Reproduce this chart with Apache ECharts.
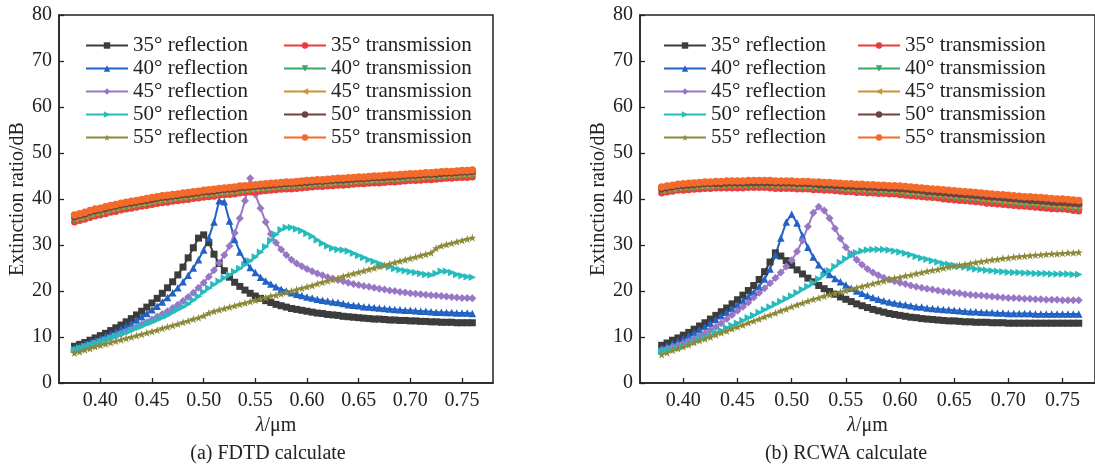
<!DOCTYPE html>
<html>
<head>
<meta charset="utf-8">
<script src="https://cdn.jsdelivr.net/npm/echarts@6/dist/echarts.min.js"></script>
<style>
  html, body { margin: 0; padding: 0; background: #fff; }
  #main { width: 1095px; height: 470px; }
</style>
</head>
<body>
<div id="main"></div>
<script>
// wavelength grids (um)
var xFdtd = [0.375,0.380,0.385,0.390,0.395,0.400,0.405,0.410,0.415,0.420,
  0.425,0.430,0.435,0.440,0.445,0.450,0.455,0.460,0.465,0.470,
  0.475,0.480,0.485,0.490,0.495,0.500,0.505,0.510,0.515,0.520,
  0.525,0.530,0.535,0.540,0.545,0.550,0.555,0.560,0.565,0.570,
  0.575,0.580,0.585,0.590,0.595,0.600,0.605,0.610,0.615,0.620,
  0.625,0.630,0.635,0.640,0.645,0.650,0.655,0.660,0.665,0.670,
  0.675,0.680,0.685,0.690,0.695,0.700,0.705,0.710,0.715,0.720,
  0.725,0.730,0.735,0.740,0.745,0.750,0.755,0.760];
var xRcwa = [0.380,0.385,0.390,0.395,0.400,0.405,0.410,0.415,0.420,0.425,
  0.430,0.435,0.440,0.445,0.450,0.455,0.460,0.465,0.470,0.475,
  0.480,0.485,0.490,0.495,0.500,0.505,0.510,0.515,0.520,0.525,
  0.530,0.535,0.540,0.545,0.550,0.555,0.560,0.565,0.570,0.575,
  0.580,0.585,0.590,0.595,0.600,0.605,0.610,0.615,0.620,0.625,
  0.630,0.635,0.640,0.645,0.650,0.655,0.660,0.665,0.670,0.675,
  0.680,0.685,0.690,0.695,0.700,0.705,0.710,0.715,0.720,0.725,
  0.730,0.735,0.740,0.745,0.750,0.755,0.760,0.765];
var xTicks = [0.40,0.45,0.50,0.55,0.60,0.65,0.70,0.75];

var refNames = ['35° reflection','40° reflection','45° reflection','50° reflection','55° reflection'];
var traNames = ['35° transmission','40° transmission','45° transmission','50° transmission','55° transmission'];

// (a) FDTD
var fdtdR35 = [8.0,8.4,8.8,9.3,9.8,10.3,10.8,11.4,12.0,12.6,
  13.3,14.0,14.8,15.6,16.5,17.4,18.4,19.5,20.7,22.0,
  23.5,25.2,27.2,29.4,31.5,32.2,30.5,28.0,26.0,24.4,
  23.0,21.9,21.0,20.2,19.5,18.9,18.4,17.9,17.5,17.1,
  16.8,16.5,16.2,16.0,15.8,15.6,15.4,15.2,15.1,14.9,
  14.8,14.7,14.5,14.4,14.3,14.2,14.1,14.0,13.9,13.9,
  13.8,13.7,13.7,13.6,13.6,13.5,13.5,13.4,13.4,13.3,
  13.3,13.2,13.2,13.2,13.1,13.1,13.1,13.1];
var fdtdR40 = [7.6,8.0,8.4,8.8,9.2,9.7,10.2,10.7,11.2,11.8,
  12.4,13.0,13.7,14.4,15.1,15.9,16.7,17.6,18.6,19.6,
  20.7,22.0,23.4,25.0,26.8,28.9,31.6,35.0,39.6,39.4,
  35.2,31.2,28.5,26.6,25.1,24.0,23.0,22.2,21.5,20.9,
  20.4,20.0,19.6,19.3,19.0,18.7,18.5,18.2,18.0,17.8,
  17.6,17.5,17.3,17.0,16.9,16.8,16.6,16.5,16.4,16.3,
  16.2,16.1,16.0,15.9,15.8,15.8,15.7,15.6,15.6,15.5,
  15.4,15.4,15.3,15.3,15.2,15.2,15.2,15.1];
var fdtdR45 = [7.2,7.5,7.9,8.2,8.6,9.0,9.4,9.8,10.2,10.7,
  11.2,11.7,12.2,12.7,13.2,13.8,14.4,15.0,15.6,16.3,
  17.0,17.8,18.7,19.6,20.7,21.8,23.1,24.5,26.1,27.8,
  29.8,32.6,35.8,39.6,44.5,41.0,38.0,35.0,32.4,30.5,
  29.0,27.8,26.8,26.0,25.4,24.8,24.3,23.8,23.4,23.0,
  22.7,22.4,22.1,21.8,21.5,21.3,21.1,20.9,20.7,20.5,
  20.3,20.1,20.0,19.8,19.7,19.5,19.4,19.3,19.2,19.1,
  19.0,18.9,18.8,18.7,18.6,18.5,18.5,18.4];
var fdtdR50 = [7.3,7.6,8.0,8.3,8.7,9.0,9.4,9.8,10.2,10.6,
  11.0,11.4,11.9,12.3,12.8,13.2,13.7,14.2,14.7,15.3,
  15.9,16.5,17.2,18.0,18.8,19.8,20.6,21.4,22.1,22.8,
  23.5,24.2,24.9,25.7,26.5,27.4,28.4,29.6,31.0,32.3,
  33.3,33.8,33.8,33.5,33.1,32.5,31.9,31.1,30.4,29.8,
  29.3,29.0,28.9,28.7,28.2,27.7,27.3,26.8,26.4,26.0,
  25.6,25.2,24.9,24.6,24.4,24.2,24.0,23.8,23.6,23.5,
  23.8,24.3,24.3,24.0,23.6,23.3,23.1,23.0];
var fdtdR55 = [6.5,6.8,7.2,7.5,7.9,8.2,8.5,8.8,9.1,9.4,
  9.7,10.0,10.3,10.6,10.9,11.2,11.5,11.9,12.2,12.5,
  12.8,13.2,13.5,13.9,14.2,14.6,15.2,15.6,15.9,16.2,
  16.5,16.8,17.1,17.4,17.7,18.0,18.3,18.6,18.9,19.1,
  19.4,19.7,20.0,20.3,20.6,20.9,21.2,21.6,21.9,22.2,
  22.5,22.8,23.2,23.5,23.8,24.1,24.4,24.7,25.0,25.3,
  25.6,25.9,26.2,26.5,26.8,27.1,27.4,27.7,28.0,28.3,
  29.3,29.8,30.1,30.4,30.7,31.0,31.3,31.6];
var fdtdT35 = [35.0,35.3,35.6,36.0,36.3,36.5,36.8,37.1,37.3,37.6,
  37.8,38.0,38.2,38.4,38.6,38.8,39.0,39.2,39.3,39.5,
  39.6,39.8,39.9,40.1,40.2,40.4,40.5,40.6,40.8,40.9,
  41.0,41.1,41.3,41.4,41.5,41.6,41.7,41.8,41.9,42.0,
  42.1,42.2,42.2,42.3,42.4,42.5,42.6,42.7,42.7,42.8,
  42.9,43.0,43.0,43.1,43.2,43.3,43.3,43.4,43.5,43.5,
  43.6,43.7,43.7,43.8,43.9,44.0,44.0,44.1,44.2,44.2,
  44.3,44.4,44.5,44.5,44.6,44.7,44.7,44.8];
var fdtdT40 = [35.4,35.7,36.0,36.4,36.7,36.9,37.2,37.5,37.7,38.0,
  38.2,38.4,38.6,38.8,39.0,39.2,39.4,39.6,39.7,39.9,
  40.0,40.2,40.3,40.5,40.6,40.8,40.9,41.0,41.2,41.3,
  41.4,41.5,41.7,41.8,41.9,42.0,42.1,42.2,42.3,42.4,
  42.5,42.6,42.6,42.7,42.8,42.9,43.0,43.1,43.1,43.2,
  43.3,43.4,43.4,43.5,43.6,43.7,43.7,43.8,43.9,43.9,
  44.0,44.1,44.1,44.2,44.3,44.4,44.4,44.5,44.6,44.6,
  44.7,44.8,44.9,44.9,45.0,45.1,45.1,45.2];
var fdtdT45 = [35.7,36.0,36.3,36.7,37.0,37.2,37.5,37.8,38.0,38.3,
  38.5,38.7,38.9,39.1,39.3,39.5,39.7,39.9,40.0,40.2,
  40.3,40.5,40.6,40.8,40.9,41.1,41.2,41.3,41.5,41.6,
  41.7,41.8,42.0,42.1,42.2,42.3,42.4,42.5,42.6,42.7,
  42.8,42.9,42.9,43.0,43.1,43.2,43.3,43.4,43.4,43.5,
  43.6,43.7,43.7,43.8,43.9,44.0,44.0,44.1,44.2,44.2,
  44.3,44.4,44.4,44.5,44.6,44.7,44.7,44.8,44.9,44.9,
  45.0,45.1,45.2,45.2,45.3,45.4,45.4,45.5];
var fdtdT50 = [36.1,36.4,36.7,37.1,37.4,37.6,37.9,38.2,38.4,38.7,
  38.9,39.1,39.3,39.5,39.7,39.9,40.1,40.3,40.4,40.6,
  40.7,40.9,41.0,41.2,41.3,41.5,41.6,41.7,41.9,42.0,
  42.1,42.2,42.4,42.5,42.6,42.7,42.8,42.9,43.0,43.1,
  43.2,43.3,43.3,43.4,43.5,43.6,43.7,43.8,43.8,43.9,
  44.0,44.1,44.1,44.2,44.3,44.4,44.4,44.5,44.6,44.6,
  44.7,44.8,44.8,44.9,45.0,45.1,45.1,45.2,45.3,45.3,
  45.4,45.5,45.6,45.6,45.7,45.8,45.8,45.9];
var fdtdT55 = [36.5,36.8,37.1,37.5,37.8,38.0,38.3,38.6,38.8,39.1,
  39.3,39.5,39.7,39.9,40.1,40.3,40.5,40.7,40.8,41.0,
  41.1,41.3,41.4,41.6,41.7,41.9,42.0,42.1,42.3,42.4,
  42.5,42.6,42.8,42.9,43.0,43.1,43.2,43.3,43.4,43.5,
  43.6,43.7,43.7,43.8,43.9,44.0,44.1,44.2,44.2,44.3,
  44.4,44.5,44.5,44.6,44.7,44.8,44.8,44.9,45.0,45.0,
  45.1,45.2,45.2,45.3,45.4,45.5,45.5,45.6,45.7,45.7,
  45.8,45.9,46.0,46.0,46.1,46.2,46.2,46.3];

// (b) RCWA
var rcwaR35 = [8.2,8.7,9.3,9.8,10.4,11.0,11.7,12.4,13.1,13.9,
  14.7,15.5,16.3,17.2,18.1,19.1,20.1,21.2,22.5,24.2,
  26.3,28.3,27.6,26.6,25.6,24.6,23.7,22.8,22.0,21.2,
  20.5,19.9,19.3,18.7,18.2,17.7,17.2,16.8,16.4,16.0,
  15.7,15.4,15.1,14.9,14.7,14.5,14.3,14.2,14.0,13.9,
  13.8,13.7,13.6,13.5,13.5,13.4,13.3,13.3,13.2,13.2,
  13.2,13.1,13.1,13.1,13.0,13.0,13.0,13.0,13.0,13.0,
  13.0,13.0,13.0,13.0,13.0,13.0,13.0,13.0];
var rcwaR40 = [7.6,8.1,8.6,9.1,9.7,10.3,10.9,11.6,12.3,13.0,
  13.8,14.6,15.4,16.2,17.0,17.9,18.8,19.8,21.0,22.6,
  24.8,27.8,31.5,35.0,36.7,34.8,32.0,29.5,27.4,25.7,
  24.3,23.6,22.7,22.0,21.3,20.6,20.0,19.5,19.0,18.6,
  18.2,17.9,17.6,17.4,17.2,17.0,16.8,16.6,16.5,16.3,
  16.2,16.1,16.0,15.9,15.8,15.7,15.6,15.5,15.5,15.4,
  15.3,15.3,15.2,15.2,15.1,15.1,15.1,15.1,15.1,15.0,
  15.0,15.0,15.0,15.0,15.0,15.0,15.0,15.0];
var rcwaR45 = [7.2,7.5,7.9,8.2,8.6,9.1,9.6,10.2,10.8,11.5,
  12.2,13.0,13.9,14.8,15.7,16.6,17.5,18.6,19.6,20.6,
  21.7,22.8,24.0,25.3,26.7,28.6,31.0,34.0,37.0,38.3,
  37.5,35.8,33.6,31.4,29.5,28.0,26.8,25.7,24.8,24.0,
  23.4,22.9,22.5,22.1,21.8,21.5,21.2,20.9,20.7,20.5,
  20.3,20.1,19.9,19.8,19.6,19.5,19.3,19.2,19.1,19.0,
  18.9,18.8,18.7,18.6,18.5,18.5,18.4,18.3,18.3,18.2,
  18.2,18.1,18.1,18.1,18.0,18.0,18.0,18.0];
var rcwaR50 = [6.9,7.1,7.4,7.6,7.9,8.4,8.9,9.4,9.9,10.4,
  10.9,11.4,12.0,12.5,13.0,13.6,14.2,14.7,15.3,15.9,
  16.5,17.1,17.7,18.3,18.9,19.6,20.3,21.0,21.8,22.6,
  23.5,24.4,25.3,26.2,27.0,27.7,28.3,28.7,28.9,29.0,
  29.0,29.0,28.9,28.7,28.5,28.2,27.9,27.5,27.2,26.9,
  26.6,26.3,26.0,25.8,25.6,25.4,25.2,25.0,24.8,24.7,
  24.5,24.4,24.3,24.2,24.1,24.0,24.0,23.9,23.9,23.8,
  23.8,23.8,23.7,23.7,23.7,23.7,23.6,23.6];
var rcwaR55 = [6.2,6.6,7.1,7.5,7.9,8.3,8.8,9.2,9.6,10.0,
  10.5,10.9,11.3,11.8,12.2,12.6,13.1,13.5,13.9,14.4,
  14.8,15.2,15.7,16.1,16.6,17.0,17.4,17.8,18.2,18.5,
  18.9,19.2,19.5,19.8,20.1,20.4,20.7,21.0,21.3,21.6,
  21.9,22.2,22.5,22.8,23.0,23.3,23.5,23.8,24.0,24.3,
  24.5,24.7,25.0,25.2,25.4,25.6,25.8,26.0,26.2,26.4,
  26.6,26.8,26.9,27.1,27.2,27.4,27.5,27.6,27.7,27.8,
  27.9,28.0,28.1,28.1,28.2,28.3,28.3,28.4];
var rcwaT35 = [41.3,41.5,41.7,41.9,41.9,42.0,42.1,42.2,42.3,42.3,
  42.4,42.4,42.4,42.4,42.4,42.4,42.5,42.5,42.5,42.5,
  42.4,42.3,42.3,42.3,42.3,42.2,42.2,42.2,42.0,42.0,
  41.9,41.9,41.8,41.7,41.6,41.6,41.4,41.4,41.3,41.3,
  41.2,41.2,41.1,41.1,40.9,40.8,40.7,40.6,40.5,40.4,
  40.3,40.2,40.0,39.9,39.8,39.7,39.6,39.5,39.4,39.3,
  39.1,39.0,38.9,38.8,38.7,38.6,38.5,38.4,38.3,38.2,
  38.1,38.0,37.9,37.8,37.8,37.7,37.5,37.4];
var rcwaT40 = [41.6,41.8,42.0,42.2,42.3,42.3,42.4,42.5,42.6,42.6,
  42.7,42.7,42.8,42.8,42.8,42.7,42.8,42.8,42.8,42.8,
  42.8,42.7,42.7,42.7,42.7,42.5,42.5,42.5,42.4,42.4,
  42.3,42.3,42.2,42.1,41.9,41.9,41.8,41.8,41.7,41.7,
  41.6,41.6,41.5,41.5,41.3,41.2,41.1,41.0,40.9,40.8,
  40.7,40.6,40.5,40.3,40.2,40.1,40.0,39.9,39.8,39.7,
  39.6,39.5,39.4,39.2,39.1,39.0,38.9,38.8,38.8,38.7,
  38.6,38.5,38.4,38.2,38.2,38.1,38.0,37.9];
var rcwaT45 = [41.9,42.1,42.3,42.5,42.6,42.7,42.8,42.8,42.9,42.9,
  43.0,43.0,43.1,43.1,43.1,43.1,43.2,43.2,43.2,43.2,
  43.1,43.0,43.0,43.0,43.0,42.9,42.9,42.9,42.8,42.8,
  42.7,42.7,42.6,42.4,42.3,42.3,42.2,42.2,42.1,42.1,
  42.0,42.0,41.9,41.9,41.8,41.6,41.5,41.4,41.3,41.2,
  41.1,41.0,40.9,40.8,40.7,40.6,40.5,40.4,40.2,40.1,
  40.0,39.9,39.8,39.7,39.6,39.5,39.4,39.3,39.3,39.2,
  39.1,38.9,38.8,38.7,38.7,38.6,38.5,38.4];
var rcwaT50 = [42.2,42.4,42.6,42.8,42.9,43.0,43.1,43.2,43.3,43.3,
  43.3,43.3,43.4,43.4,43.4,43.4,43.5,43.5,43.5,43.5,
  43.5,43.4,43.4,43.4,43.4,43.3,43.3,43.3,43.2,43.1,
  43.0,43.0,42.9,42.8,42.7,42.7,42.6,42.6,42.5,42.5,
  42.4,42.4,42.3,42.3,42.2,42.1,42.0,41.9,41.8,41.6,
  41.5,41.4,41.3,41.2,41.1,41.0,40.9,40.8,40.7,40.6,
  40.5,40.4,40.3,40.2,40.1,40.0,39.9,39.8,39.7,39.6,
  39.5,39.4,39.3,39.2,39.2,39.1,39.0,38.9];
var rcwaT55 = [42.6,42.8,43.0,43.2,43.3,43.4,43.5,43.6,43.7,43.7,
  43.8,43.8,43.9,43.9,43.9,43.9,44.0,44.0,44.0,44.0,
  44.0,43.9,43.9,43.9,43.9,43.8,43.8,43.8,43.7,43.7,
  43.6,43.6,43.5,43.4,43.3,43.3,43.2,43.2,43.1,43.1,
  43.0,43.0,42.9,42.9,42.8,42.7,42.6,42.5,42.4,42.3,
  42.2,42.1,42.0,41.9,41.8,41.7,41.6,41.5,41.4,41.3,
  41.2,41.1,41.0,40.9,40.8,40.7,40.6,40.5,40.5,40.4,
  40.3,40.2,40.1,40.0,40.0,39.9,39.8,39.7];

var chart = echarts.init(document.getElementById('main'), null, {renderer: 'canvas'});

var FONT = "'Liberation Serif', 'Times New Roman', serif";
var INK = '#222';
var star = 'path://M0,-10L2.35,-3.24L9.51,-3.09L3.8,1.24L5.88,8.09L0,4L-5.88,8.09L-3.8,1.24L-9.51,-3.09L-2.35,-3.24Z';

// colour, marker, marker rotation, marker size for each curve
var styles = {
  '35° reflection':   ['#3c3c3c', 'rect', 0, 7],
  '40° reflection':   ['#2162c4', 'triangle', 0, 7.5],
  '45° reflection':   ['#9878c6', 'diamond', 0, 8],
  '50° reflection':   ['#26bcbc', 'triangle', -90, 7.5],
  '55° reflection':   ['#8c8a3a', star, 0, 8],
  '35° transmission': ['#ee3b3b', 'circle', 0, 7],
  '40° transmission': ['#3aa866', 'triangle', 180, 7.5],
  '45° transmission': ['#c99530', 'triangle', 90, 7.5],
  '50° transmission': ['#6b4343', 'circle', 0, 7],
  '55° transmission': ['#f36a2a', 'circle', 0, 7.5]
};

function line(name, xs, ys, idx) {
  var st = styles[name];
  var pts = [];
  for (var i = 0; i < xs.length; i++) pts.push([xs[i], ys[i]]);
  return {
    name: name,
    type: 'line',
    xAxisIndex: idx,
    yAxisIndex: idx,
    data: pts,
    symbol: st[1],
    symbolRotate: st[2],
    symbolSize: st[3],
    showAllSymbol: true,
    animation: false,
    color: st[0],
    lineStyle: {width: 2, color: st[0]},
    itemStyle: {color: st[0]}
  };
}

function xAxis(idx) {
  return {
    type: 'value', gridIndex: idx, min: 0.36, max: 0.78,
    name: '{i|λ}/μm', nameLocation: 'middle', nameGap: 31,
    nameTextStyle: {fontFamily: FONT, fontSize: 20, color: INK,
      rich: {i: {fontFamily: FONT, fontSize: 20, fontStyle: 'italic', color: INK}}},
    axisLine: {lineStyle: {color: INK, width: 1.5}},
    axisTick: {inside: true, length: 5, customValues: xTicks, lineStyle: {color: INK, width: 1.3}},
    axisLabel: {customValues: xTicks, margin: 8, fontFamily: FONT, fontSize: 20, color: INK,
      formatter: function (v) { return v.toFixed(2); }},
    splitLine: {show: false}
  };
}

function yAxis(idx) {
  return {
    type: 'value', gridIndex: idx, min: 0, max: 80, interval: 10,
    name: 'Extinction ratio/dB', nameLocation: 'middle', nameGap: 31,
    nameTextStyle: {fontFamily: FONT, fontSize: 20, color: INK},
    axisLine: {show: true, lineStyle: {color: INK, width: 1.5}},
    axisTick: {show: true, inside: true, length: 5, lineStyle: {color: INK, width: 1.3}},
    axisLabel: {margin: 7, fontFamily: FONT, fontSize: 20, color: INK},
    splitLine: {show: false}
  };
}

function legend(names, left) {
  return {
    orient: 'vertical', left: left, top: 29,
    data: names, itemWidth: 42, itemHeight: 8, itemGap: 0,
    selectedMode: false,
    textStyle: {fontFamily: FONT, fontSize: 21, color: INK, lineHeight: 23}
  };
}

var series = [];
var fr = [fdtdR35, fdtdR40, fdtdR45, fdtdR50, fdtdR55];
var ft = [fdtdT35, fdtdT40, fdtdT45, fdtdT50, fdtdT55];
var rr = [rcwaR35, rcwaR40, rcwaR45, rcwaR50, rcwaR55];
var rt = [rcwaT35, rcwaT40, rcwaT45, rcwaT50, rcwaT55];
for (var k = 0; k < 5; k++) series.push(line(refNames[k], xFdtd, fr[k], 0));
for (var k = 0; k < 5; k++) series.push(line(traNames[k], xFdtd, ft[k], 0));
for (var k = 0; k < 5; k++) series.push(line(refNames[k], xRcwa, rr[k], 1));
for (var k = 0; k < 5; k++) series.push(line(traNames[k], xRcwa, rt[k], 1));

var option = {
  backgroundColor: '#fff',
  animation: false,
  grid: [
    {left: 59, top: 15, width: 434, height: 368, show: true, borderColor: INK, borderWidth: 1.5},
    {left: 640, top: 15, width: 456, height: 368, show: true, borderColor: INK, borderWidth: 1.5}
  ],
  xAxis: [xAxis(0), xAxis(1)],
  yAxis: [yAxis(0), yAxis(1)],
  legend: [
    legend(refNames, 80), legend(traNames, 278),
    legend(refNames, 658), legend(traNames, 852)
  ],
  graphic: [
    {type: 'text', x: 268, y: 454, style: {text: '(a) FDTD calculate', font: '20px ' + FONT, fill: INK, align: 'center', verticalAlign: 'middle'}},
    {type: 'text', x: 846, y: 454, style: {text: '(b) RCWA calculate', font: '20px ' + FONT, fill: INK, align: 'center', verticalAlign: 'middle'}}
  ],
  series: series
};
chart.setOption(option);
</script>
</body>
</html>
